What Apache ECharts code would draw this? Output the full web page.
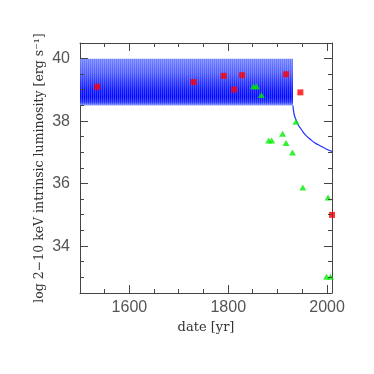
<!DOCTYPE html>
<html>
<head>
<meta charset="utf-8">
<script src="https://cdn.jsdelivr.net/npm/echarts@6/dist/echarts.min.js"></script>
<style>html,body{margin:0;padding:0;background:#fff;}#c{width:374px;height:374px;}</style>
</head>
<body>
<div id="c"></div>
<script>
// Band of simulated luminosity history: [startYear, endYear, lowLog, highLog]
const bandRange = [1500, 1931, 38.5, 40.0];
// Decay curve after the band
const curveX = [1931, 1932, 1934, 1937, 1941, 1946, 1952, 1958, 1966, 1975, 1986, 1998, 2010];
const curveY = [38.5, 38.35, 38.18, 38.05, 37.9, 37.78, 37.64, 37.53, 37.42, 37.31, 37.21, 37.11, 37.03];
// Red squares
const redX = [1535, 1730, 1791, 1812, 1828, 1917, 1946, 2010];
const redY = [39.10, 39.25, 39.45, 39.01, 39.47, 39.50, 38.92, 35.0];
// Green triangles
const greenX = [1851, 1857, 1867, 1882, 1888, 1910, 1917, 1930, 1937, 1951, 2002, 1999, 2007];
const greenY = [39.12, 39.12, 38.84, 37.38, 37.38, 37.60, 37.30, 37.00, 37.98, 35.88, 35.56, 33.02, 33.02];
// Axis ranges, ticks and labels
const xMin = 1500, xMax = 2010, yMin = 32.5, yMax = 40.5;
const xMajor = [1600, 1800, 2000];
const xMinor = [1550, 1650, 1700, 1750, 1850, 1900, 1950];
const yMajor = [34, 36, 38, 40];
const yMinor = [33, 33.5, 34.5, 35, 35.5, 36.5, 37, 37.5, 38.5, 39, 39.5];

const axisColor = '#444';
const labelColor = '#555';
const serif = '"DejaVu Serif", serif';
const sans = '"Liberation Sans", sans-serif';

function xAx(pos) {
  const lbl = pos === 'bottom';
  const ax = {
    type: 'value', position: pos, min: xMin, max: xMax, interval: 50,
    axisLine: { show: true, lineStyle: { color: axisColor } },
    axisTick: { show: false },
    axisLabel: { show: lbl, customValues: xMajor, fontSize: 16, color: labelColor, margin: 7, fontFamily: sans, formatter: v => String(v) },
    splitLine: { show: false }
  };
  if (lbl) {
    ax.name = 'date [yr]'; ax.nameLocation = 'middle'; ax.nameGap = 27;
    ax.nameTextStyle = { fontFamily: serif, fontSize: 13, color: '#333' };
  }
  return ax;
}
function yAx(pos) {
  const lbl = pos === 'left';
  const ax = {
    type: 'value', position: pos, min: yMin, max: yMax, interval: 0.5,
    axisLine: { show: true, lineStyle: { color: axisColor } },
    axisTick: { show: false },
    axisLabel: { show: lbl, customValues: yMajor, fontSize: 16, color: labelColor, margin: 10, fontFamily: sans, formatter: v => String(v) },
    splitLine: { show: false }
  };
  if (lbl) {
    ax.name = 'log 2\u221210 keV intrinsic luminosity [erg s\u207B\u00B9]';
    ax.nameLocation = 'middle'; ax.nameGap = 34; ax.nameMoveOverlap = false;
    ax.nameTextStyle = { fontFamily: serif, fontSize: 12.5, color: '#333' };
  }
  return ax;
}

function crisp(v) { return Math.round(v - 0.5) + 0.5; }

// Tick marks drawn inside the frame on both opposite sides, positioned through the axis scale
function xTickSeries(values, len) {
  return {
    type: 'custom', xAxisIndex: 0, yAxisIndex: 0, z: 5, silent: true, clip: false,
    data: values.map(v => [v, yMin]),
    encode: { x: 0, y: 1 },
    renderItem: function (params, api) {
      const cs = params.coordSys;
      const px = crisp(api.coord([api.value(0), api.value(1)])[0]);
      const yb = cs.y + cs.height, yt = cs.y;
      return { type: 'group', children: [
        { type: 'line', shape: { x1: px, y1: yb, x2: px, y2: yb - len }, style: { stroke: axisColor, lineWidth: 1 } },
        { type: 'line', shape: { x1: px, y1: yt, x2: px, y2: yt + len }, style: { stroke: axisColor, lineWidth: 1 } }
      ] };
    }
  };
}
function yTickSeries(values, len) {
  return {
    type: 'custom', xAxisIndex: 0, yAxisIndex: 0, z: 5, silent: true, clip: false,
    data: values.map(v => [xMin, v]),
    encode: { x: 0, y: 1 },
    renderItem: function (params, api) {
      const cs = params.coordSys;
      const py = crisp(api.coord([api.value(0), api.value(1)])[1]);
      const xl = cs.x, xr = cs.x + cs.width;
      return { type: 'group', children: [
        { type: 'line', shape: { x1: xl, y1: py, x2: xl + len, y2: py }, style: { stroke: axisColor, lineWidth: 1 } },
        { type: 'line', shape: { x1: xr, y1: py, x2: xr - len, y2: py }, style: { stroke: axisColor, lineWidth: 1 } }
      ] };
    }
  };
}

const chart = echarts.init(document.getElementById('c'));
chart.setOption({
  animation: false,
  grid: { left: 80, right: 42, top: 43, bottom: 81 },
  xAxis: [xAx('bottom'), xAx('top')],
  yAxis: [yAx('left'), yAx('right')],
  series: [
    {
      type: 'custom', xAxisIndex: 0, yAxisIndex: 0,
      data: [bandRange],
      encode: { x: [0, 1], y: [2, 3] },
      renderItem: function (params, api) {
        const p0 = api.coord([api.value(0), api.value(3)]);
        const p1 = api.coord([api.value(1), api.value(2)]);
        const x0 = p0[0], y0 = p0[1], x1 = p1[0], y1 = p1[1];
        const children = [{
          type: 'rect',
          shape: { x: x0, y: y0, width: x1 - x0, height: y1 - y0 },
          style: {
            fill: new echarts.graphic.LinearGradient(0, 0, 0, 1, [
              { offset: 0, color: '#7282ff' },
              { offset: 0.3, color: '#5060ff' },
              { offset: 0.5, color: '#2a36ff' },
              { offset: 0.65, color: '#101aff' },
              { offset: 0.82, color: '#0008ff' },
              { offset: 0.93, color: '#2030ff' },
              { offset: 1, color: '#8c98ff' }
            ])
          }
        }];
        for (let x = x0 + 1; x < x1 - 1; x += 2) {
          children.push({
            type: 'line',
            shape: { x1: Math.round(x) + 0.5, y1: y0, x2: Math.round(x) + 0.5, y2: y1 },
            style: { stroke: 'rgba(255,255,255,0.22)', lineWidth: 1 }
          });
        }
        return { type: 'group', children: children };
      },
      z: 1
    },
    {
      type: 'line', xAxisIndex: 0, yAxisIndex: 0,
      data: curveX.map((x, i) => [x, curveY[i]]),
      showSymbol: false, smooth: true,
      lineStyle: { color: '#2030ff', width: 1.2 },
      z: 2
    },
    {
      type: 'scatter', xAxisIndex: 0, yAxisIndex: 0,
      data: redX.map((x, i) => [x, redY[i]]),
      symbol: 'rect', symbolSize: 6, clip: false,
      itemStyle: { color: '#ff0000' }, z: 3
    },
    {
      type: 'scatter', xAxisIndex: 0, yAxisIndex: 0,
      data: greenX.map((x, i) => [x, greenY[i]]),
      symbol: 'triangle', symbolSize: [7, 6], clip: false,
      itemStyle: { color: '#00ee00' }, z: 3
    },
    xTickSeries(xMajor, 8),
    xTickSeries(xMinor, 4),
    yTickSeries(yMajor, 8),
    yTickSeries(yMinor, 4)
  ]
});
</script>
</body>
</html>
